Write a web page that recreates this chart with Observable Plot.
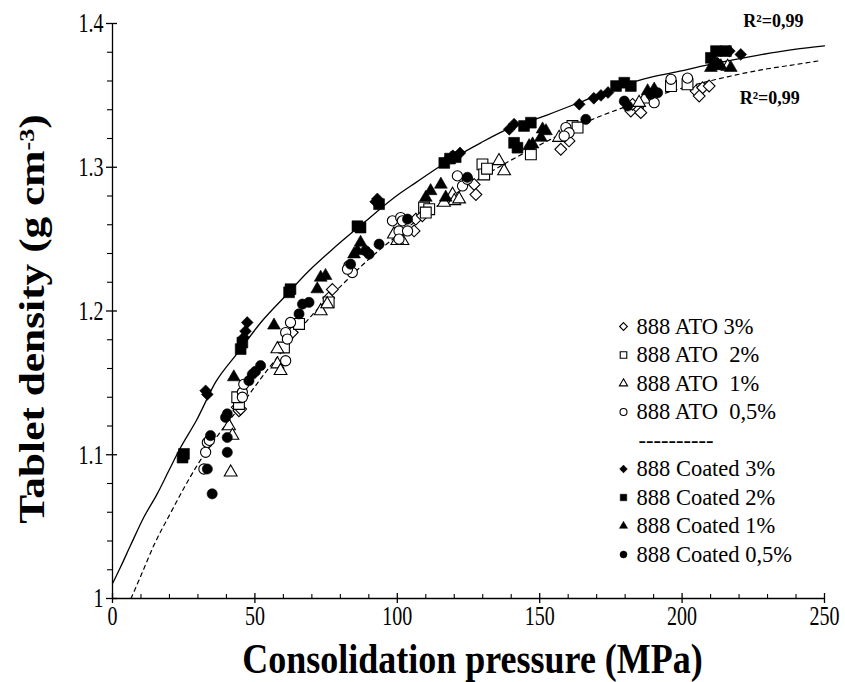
<!DOCTYPE html>
<html><head><meta charset="utf-8">
<script src="https://cdn.jsdelivr.net/npm/d3@7"></script>
<script src="https://cdn.jsdelivr.net/npm/@observablehq/plot@0.6"></script>
<style>
html,body{margin:0;padding:0;background:#fff;}
#chart{width:845px;height:682px;position:relative;}
#chart svg text{font-family:'Liberation Serif','Times New Roman',serif;}
</style></head><body><div id="chart"></div>
<script>
// ---------- data ----------
const xTicks = [0, 50, 100, 150, 200, 250];
const xTickLabels = ["0", "50", "100", "150", "200", "250"];
const xMinorTicks = [10, 20, 30, 40, 60, 70, 80, 90, 110, 120, 130, 140, 160, 170, 180, 190, 210, 220, 230, 240];
const yTicks = [1, 1.1, 1.2, 1.3, 1.4];
const yTickLabels = ["1", "1.1", "1.2", "1.3", "1.4"];
const yMinorTicks = [1.02, 1.04, 1.06, 1.08, 1.12, 1.14, 1.16, 1.18, 1.22, 1.24, 1.26, 1.28, 1.32, 1.34, 1.36, 1.38];

const xTitle = "Consolidation pressure (MPa)";
const yTitle = ["Tablet density (g cm", "-3", ")"];
const seriesNames = ["888 ATO 3%", "888 ATO  2%", "888 ATO  1%", "888 ATO  0,5%",
                     "888 Coated 3%", "888 Coated 2%", "888 Coated 1%", "888 Coated 0,5%"];
const legendSeparator = "----------";
const r2Label = "R²=0,99";

const ato3 = [[43.8,1.133],[44.4,1.1306],[45.0,1.1318],[63.1,1.185],[77.2,1.215],[75.9,1.209],
  [106.5,1.2639],[108.8,1.2662],[105.9,1.2557],[127.0,1.288],[127.6,1.281],[157.4,1.3125],[160.3,1.3183],
  [182.0,1.3391],[184.4,1.3414],[185.5,1.338],[182.6,1.3438],[204.9,1.353],[207.2,1.3553],[209.5,1.3565],[206.0,1.3495]];
const ato2 = [[44.4,1.1353],[43.8,1.140],[60.2,1.1746],[65.5,1.191],[75.9,1.206],[109.4,1.272],[111.2,1.2708],
  [110.0,1.2685],[129.9,1.302],[130.5,1.295],[131.5,1.299],[146.9,1.309],[161.5,1.3287],[163.3,1.3276],
  [196.1,1.3565],[201.9,1.3577]];
const ato1 = [[40.9,1.12],[42.1,1.1133],[41.5,1.0878],[57.9,1.1735],[57.9,1.163],[59.0,1.1584],[73.1,1.200],
  [75.4,1.2048],[98.8,1.2534],[101.8,1.2488],[100.0,1.2488],[119.4,1.281],[120.0,1.2766],[116.4,1.2754],
  [121.7,1.2778],[135.7,1.3044],[137.5,1.2974],[156.8,1.3206],[186.7,1.3473],[184.9,1.3449],[216.0,1.370],[212.5,1.371]];
const ato05 = [[33.3,1.1086],[32.7,1.1017],[32.1,1.0901],[34.0,1.110],[45.6,1.1434],[46.1,1.149],[45.6,1.140],
  [60.8,1.185],[61.4,1.1805],[62.5,1.192],[60.8,1.1654],[83.0,1.2314],[84.2,1.2268],[82.5,1.2291],[98.3,1.2627],
  [101.2,1.265],[101.8,1.2627],[100.6,1.2557],[103.6,1.2557],[100.6,1.250],[121.1,1.294],[122.9,1.287],
  [124.6,1.2917],[159.2,1.3276],[160.3,1.324],[158.6,1.3217],[190.2,1.3449],[196.1,1.3612],[201.9,1.362]];
const coated3 = [[32.7,1.1445],[33.3,1.142],[47.3,1.192],[46.7,1.186],[46.1,1.1816],[93.0,1.278],[92.4,1.276],
  [117.5,1.305],[119.5,1.308],[122.0,1.310],[139.3,1.3264],[141.0,1.330],[163.9,1.3438],[169.0,1.348],
  [171.5,1.350],[174.0,1.352],[216.6,1.3808],[220.6,1.3785]];
const coated2 = [[25.1,1.1006],[24.6,1.098],[45.6,1.178],[45.0,1.1735],[62.5,1.2152],[62.0,1.213],[86.0,1.259],
  [87.1,1.258],[93.6,1.2743],[116.5,1.303],[118.5,1.306],[120.5,1.307],[144.5,1.3287],[146.9,1.331],
  [141.0,1.317],[142.2,1.3136],[176.8,1.3565],[179.7,1.3588],[182.0,1.3565],[211.9,1.3808],[215.4,1.3808],[210.1,1.3761]];
const coated1 = [[42.6,1.154],[56.7,1.19],[71.9,1.2152],[73.1,1.2233],[74.8,1.2245],[87.1,1.2476],[86.0,1.2418],
  [84.8,1.2395],[115.3,1.288],[111.7,1.2835],[110.0,1.2789],[117.0,1.279],[151.0,1.3264],[152.2,1.3252],
  [150.4,1.3206],[146.3,1.3148],[147.5,1.316],[187.9,1.353],[190.2,1.3542],[210.1,1.3692],[213.6,1.3704],[217.1,1.3692]];
const coated05 = [[34.4,1.1133],[33.3,1.0901],[35.0,1.0728],[40.3,1.1284],[40.3,1.112],[40.3,1.1017],[39.7,1.126],
  [47.9,1.1515],[49.1,1.156],[50.2,1.158],[52.0,1.162],[65.5,1.198],[66.7,1.2048],[69.0,1.206],[83.6,1.2326],
  [88.9,1.2418],[90.1,1.2395],[93.6,1.2465],[103.6,1.2639],[124.6,1.293],[166.2,1.3333],[179.7,1.346],
  [180.9,1.3426],[189.0,1.3507],[191.4,1.3518],[211.9,1.3727]];

const solidFit = [[0,1.0104],[2.8,1.0218],[6.3,1.0368],[11,1.0565],[15.7,1.0728],[19.8,1.089],[23.9,1.105],
  [29.5,1.124],[36.2,1.1505],[43.8,1.1705],[52.6,1.1932],[60.2,1.2094],[69,1.228],[76.6,1.2418],[88.3,1.2615],
  [100,1.2805],[106.5,1.2893],[115.3,1.301],[129.3,1.317],[138.7,1.3265],[152.8,1.3365],[164.5,1.3455],
  [176,1.3545],[186.7,1.3615],[198.4,1.3665],[209,1.3712],[224,1.377],[239.4,1.382],[250,1.3845]];
const dashedFit = [[6.5,1.0],[10,1.016],[15,1.039],[20,1.058],[25,1.0765],[30,1.0935],[37,1.1135],[45,1.134],
  [54,1.158],[62,1.178],[70,1.197],[80,1.217],[90,1.236],[100,1.2525],[110,1.2675],[120,1.281],[130,1.2935],
  [140,1.305],[150,1.3155],[160,1.3255],[170,1.3345],[180,1.342],[190,1.349],[200,1.355],[215,1.3625],
  [230,1.3685],[240,1.3715],[248,1.374]];

// ---------- layout / styles ----------
const W = 845, H = 682;
const mL = 112, mR = 21, mT = 23, mB = 84;
const FW = W - mL - mR, FH = H - mT - mB;
const serif = "Liberation Serif";

const seriesData = [ato3, ato2, ato1, ato05, coated3, coated2, coated1, coated05];
const symbols = [d3.symbolDiamond2, d3.symbolSquare, d3.symbolTriangle2, d3.symbolCircle];
const radii = [5.3, 6.1, 6.1, 5.1];
const legendRadii = [3.5, 3.7, 3.9, 3.5];

const marks = [];
marks.push(Plot.line(solidFit, {x: d => d[0], y: d => d[1], curve: "monotone-x", stroke: "black", strokeWidth: 1.3}));
marks.push(Plot.line(dashedFit, {x: d => d[0], y: d => d[1], curve: "monotone-x", stroke: "black", strokeWidth: 1.2, strokeDasharray: "4,4"}));

seriesData.forEach((data, i) => {
  const k = i % 4, filled = i >= 4;
  marks.push(Plot.dot(data, {x: d => d[0], y: d => d[1], symbol: symbols[k], r: radii[k],
    fill: filled ? "black" : "white", stroke: "black", strokeWidth: filled ? 0.6 : 1.1}));
});

marks.push(Plot.ruleY([1], {stroke: "black", strokeWidth: 1.3}));
marks.push(Plot.ruleX([0], {stroke: "black", strokeWidth: 1.3}));
const xFmt = new Map(xTicks.map((t, i) => [t, xTickLabels[i]]));
const yFmt = new Map(yTicks.map((t, i) => [t, yTickLabels[i]]));
marks.push(Plot.axisX(xTicks, {anchor: "bottom", tickSize: 5, tickPadding: 2, tickFormat: d => xFmt.get(d),
  fontSize: 20, label: null, strokeWidth: 1.3, fill: "black", fontFamily: serif}));
marks.push(Plot.axisY(yTicks, {anchor: "left", tickSize: 6, tickPadding: 3, tickFormat: d => yFmt.get(d),
  fontSize: 20, label: null, strokeWidth: 1.3, fill: "black", fontFamily: serif}));
marks.push(Plot.ruleX(xTicks, {x: d => d, insetTop: FH - 5, stroke: "black", strokeWidth: 1.3}));
marks.push(Plot.ruleY(yTicks, {y: d => d, insetRight: FW - 5, stroke: "black", strokeWidth: 1.3}));
marks.push(Plot.ruleX(xMinorTicks, {x: d => d, insetTop: FH - 4, stroke: "black", strokeWidth: 1.1}));
marks.push(Plot.ruleY(yMinorTicks, {y: d => d, insetLeft: -5, insetRight: FW, stroke: "black", strokeWidth: 1.1}));

marks.push(Plot.text([xTitle], {frameAnchor: "bottom", dy: 61, dx: 4, text: d => d,
  textAnchor: "middle", lineAnchor: "middle",
  fontSize: 36, fontWeight: "bold", fontFamily: serif, fill: "black"}));
marks.push(Plot.text([yTitle.join("")], {frameAnchor: "left", dx: -80, dy: 8, rotate: -90, text: d => d,
  textAnchor: "middle", lineAnchor: "middle",
  fontSize: 35, fontWeight: "bold", fontFamily: serif, fill: "black"}));

marks.push(Plot.text([solidFit[solidFit.length - 1]], {x: d => d[0], y: d => d[1], text: () => r2Label,
  textAnchor: "end", dx: -21, dy: -25, fontSize: 18, fontWeight: "bold", fontFamily: serif, fill: "black"}));
marks.push(Plot.text([dashedFit[dashedFit.length - 1]], {x: d => d[0], y: d => d[1], text: () => r2Label,
  textAnchor: "end", dx: -19, dy: 37, fontSize: 18, fontWeight: "bold", fontFamily: serif, fill: "black"}));

const legendRows = [...seriesNames.slice(0, 4), legendSeparator, ...seriesNames.slice(4)];
const legTop = 326, legStep = 28.5, legSymX = 623, legTextX = 636;
legendRows.forEach((label, row) => {
  const dy = legTop + legStep * row - mT;
  if (row !== 4) {
    const i = row < 4 ? row : row - 1;
    const k = i % 4, filled = i >= 4;
    marks.push(Plot.dot([label], {frameAnchor: "top-left", dx: legSymX - mL, dy, symbol: symbols[k], r: legendRadii[k],
      fill: filled ? "black" : "white", stroke: "black", strokeWidth: filled ? 0.5 : 1.1}));
  }
  marks.push(Plot.text([label], {frameAnchor: "top-left", dx: (row === 4 ? legTextX + 2 : legTextX) - mL, dy,
    text: d => d, textAnchor: "start", lineAnchor: "middle", fontSize: 22.5, fontFamily: serif, fill: "black"}));
});

const chart = Plot.plot({
  width: W, height: H,
  marginLeft: mL, marginRight: mR, marginTop: mT, marginBottom: mB,
  x: {domain: [0, 250]},
  y: {domain: [1, 1.4]},
  style: "font-family: 'Liberation Serif', serif; background: white; color: black; overflow: visible;",
  marks
});
document.getElementById("chart").appendChild(chart);

// reference text is drawn taller than normal: stretch vertically after rendering
const stretch = (t, s) => t.setAttribute("transform", (t.getAttribute("transform") || "") + " " + s);
chart.querySelectorAll('g[aria-label$="tick label"] text').forEach(t => stretch(t, "scale(1,1.4)"));
chart.querySelectorAll("text").forEach(t => {
  const s = t.textContent;
  if (s === xTitle) stretch(t, "scale(1,1.15)");
  else if (s === yTitle.join("")) {
    stretch(t, "scale(1.24,1)");
    t.textContent = "";
    const sel = d3.select(t);
    sel.append("tspan").text(yTitle[0]);
    sel.append("tspan").attr("dy", "-0.45em").attr("font-size", "60%").text(yTitle[1]);
    sel.append("tspan").attr("dy", "0.27em").text(yTitle[2]);
  } else if (legendRows.includes(s)) {
    t.setAttributeNS("http://www.w3.org/XML/1998/namespace", "xml:space", "preserve");
  }
});
</script></body></html>
